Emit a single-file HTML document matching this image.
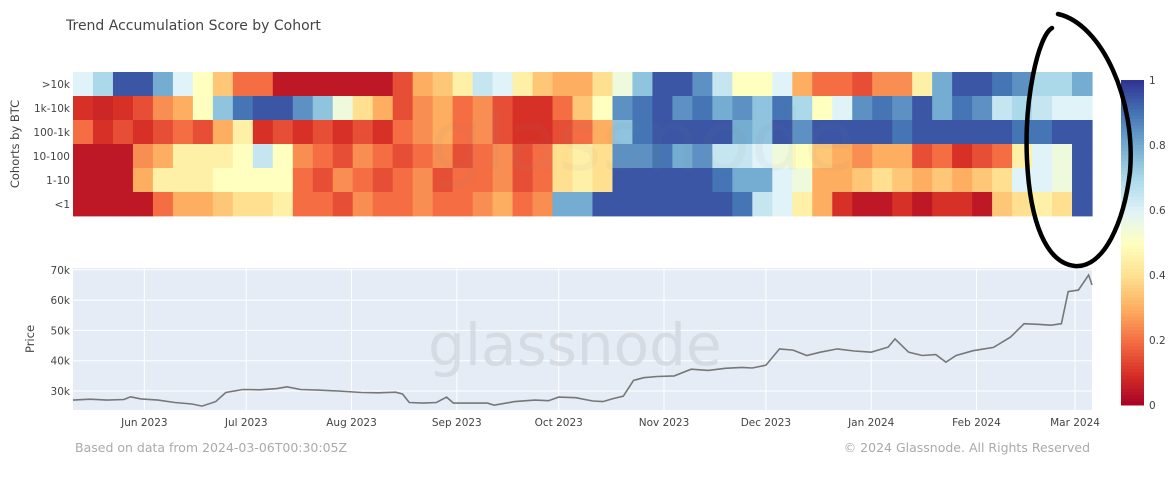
<!DOCTYPE html>
<html><head><meta charset="utf-8"><style>
body{margin:0;background:#fff;}
svg{display:block;font-family:"DejaVu Sans","Liberation Sans",sans-serif;}
</style></head><body>
<svg id="c" width="1170" height="504" viewBox="0 0 1170 504">
<rect width="1170" height="504" fill="#fff"/>
<text x="66" y="30" font-size="14" fill="#444">Trend Accumulation Score by Cohort</text>
<g id="heat"></g>
<text x="430" y="170" font-size="84" fill="#888" fill-opacity="0.06">glassnode</text>
<text x="19" y="144" font-size="11.5" fill="#444" transform="rotate(-90 19 144)" text-anchor="middle">Cohorts by BTC</text>
<g id="ylab"></g>
<rect x="73" y="268" width="1019" height="142" fill="#e5ecf6"/>
<g id="grid"></g>
<text x="428" y="365" font-size="58" fill="#cfd3dc" fill-opacity="0.7">glassnode</text>
<path id="pl" fill="none" stroke="#777" stroke-width="1.6"/>
<text x="34" y="339" font-size="11.5" fill="#444" transform="rotate(-90 34 339)" text-anchor="middle">Price</text>
<g id="cbar"></g>
<text x="75" y="452" font-size="12.5" fill="#aaa">Based on data from 2024-03-06T00:30:05Z</text>
<text x="1090" y="452" font-size="12.5" fill="#aaa" text-anchor="end">© 2024 Glassnode. All Rights Reserved</text>
<path d="M1052,28 C1038,36 1024,100 1027,160 C1030,222 1046,263 1075,266 C1104,268 1124,222 1130,172 C1136,100 1102,24 1058,14" fill="none" stroke="#000" stroke-width="4.5" stroke-linecap="round"/>
</svg>
<script>
const cohorts=[">10k","1k-10k","100-1k","10-100","1-10","<1"];
const row0=[.6,.7,.95,.95,.8,.6,.5,.35,.2,.2,.05,.05,.05,.05,.05,.05,.15,.3,.35,.45,.65,.6,.45,.35,.3,.3,.4,.55,.75,.95,.95,.85,.65,.5,.5,.6,.3,.2,.2,.15,.25,.25,.45,.8,.95,.95,.9,.85,.7,.7,.8];
const row1=[.1,.08,.1,.15,.25,.3,.5,.75,.9,.95,.95,.85,.75,.55,.4,.3,.15,.25,.3,.2,.25,.15,.1,.1,.2,.35,.5,.85,.9,.95,.85,.9,.8,.85,.75,.9,.7,.5,.6,.85,.9,.85,.95,.8,.9,.85,.65,.7,.65,.6,.6];
const row2=[.2,.1,.15,.1,.15,.2,.15,.3,.45,.1,.15,.1,.15,.1,.15,.1,.2,.25,.3,.2,.25,.15,.1,.1,.15,.2,.3,.75,.9,.95,.95,.95,.95,.8,.75,.95,.85,.95,.95,.95,.95,.9,.95,.95,.95,.95,.95,.9,.9,.95,.95];
const row3=[.05,.05,.05,.25,.3,.45,.45,.45,.5,.65,.5,.25,.2,.15,.25,.2,.15,.2,.25,.15,.2,.25,.15,.2,.4,.45,.4,.85,.85,.9,.8,.85,.65,.65,.6,.55,.5,.35,.3,.25,.3,.3,.15,.2,.1,.15,.2,.45,.6,.55,.95];
const row4=[.05,.05,.05,.3,.45,.45,.45,.5,.5,.5,.5,.2,.15,.25,.2,.15,.2,.25,.15,.2,.2,.25,.15,.2,.4,.45,.4,.95,.95,.95,.95,.95,.9,.8,.8,.6,.55,.3,.3,.35,.4,.35,.3,.35,.3,.35,.4,.6,.6,.55,.95];
const row5=[.05,.05,.05,.05,.2,.3,.3,.35,.4,.4,.45,.2,.2,.15,.25,.2,.2,.25,.2,.2,.25,.3,.2,.25,.8,.8,.95,.95,.95,.95,.95,.95,.95,.9,.65,.6,.45,.3,.1,.05,.05,.1,.05,.1,.1,.05,.35,.4,.45,.4,.95];
const rows=[row0,row1,row2,row3,row4,row5];
const days=[0,5,10,15,17,20,25,30,35,38,42,45,50,55,60,63,67,72,78,85,90,95,97,99,103,107,110,112,117,122,124,130,136,140,143,148,153,156,159,162,165,168,172,177,182,187,192,197,200,204,208,212,216,220,225,230,235,240,242,246,250,254,257,260,265,271,276,280,284,288,291,293,296,299,300];
const prices=[27,27.3,27,27.2,28.1,27.4,27.0,26.2,25.7,25.0,26.5,29.5,30.5,30.4,30.8,31.4,30.5,30.3,30.0,29.5,29.4,29.6,29.0,26.2,26.0,26.2,28.0,26.0,26.0,26.0,25.3,26.5,27.0,26.8,28.0,27.8,26.7,26.5,27.5,28.3,33.5,34.4,34.8,35.0,37.2,36.8,37.5,37.8,37.6,38.5,43.9,43.5,41.7,42.8,43.9,43.2,42.8,44.5,47.2,42.8,41.7,42,39.5,41.7,43.3,44.4,47.8,52.2,52.0,51.7,52.2,62.8,63.3,68.3,65.0];
const yTicks=[30,40,50,60,70];
const monthLabels=["Jun 2023","Jul 2023","Aug 2023","Sep 2023","Oct 2023","Nov 2023","Dec 2023","Jan 2024","Feb 2024","Mar 2024"];
const monthDays=[21,51,82,113,143,174,204,235,266,295];
const cbTicks=[0,0.2,0.4,0.6,0.8,1];

const NS="http://www.w3.org/2000/svg";
function mk(t,a,p){const e=document.createElementNS(NS,t);for(const k in a)e.setAttribute(k,a[k]);p.appendChild(e);return e;}
const stops=[[0,[165,0,38]],[.1,[215,48,39]],[.2,[244,109,67]],[.3,[253,174,97]],[.4,[254,224,144]],[.5,[255,255,191]],[.6,[224,243,248]],[.7,[171,217,233]],[.8,[116,173,209]],[.9,[69,117,180]],[1,[49,54,149]]];
function col(v){v=Math.max(0,Math.min(1,v));for(let i=1;i<stops.length;i++){if(v<=stops[i][0]){const a=stops[i-1],b=stops[i],t=(v-a[0])/(b[0]-a[0]);return "rgb("+a[1].map((c,j)=>Math.round(c+(b[1][j]-c)*t)).join(",")+")";}}return "rgb(49,54,149)";}
const hx0=73,hx1=1092,hy0=72,hy1=216;
const rh=(hy1-hy0)/cohorts.length;
const heat=document.getElementById('heat');
rows.forEach((r,ri)=>{const cw=(hx1-hx0)/r.length;r.forEach((v,ci)=>{
 const e=mk('rect',{x:hx0+ci*cw,y:hy0+ri*rh,width:cw+0.6,height:rh+0.4,fill:col(v)},heat);
 
 
});});
const yl=document.getElementById('ylab');
cohorts.forEach((c,i)=>{const t=mk('text',{x:70,y:hy0+i*rh+rh/2+4,'font-size':10.5,fill:'#444','text-anchor':'end'},yl);t.textContent=c;
 
 });
const px0=73,px1=1092,py0=268,py1=410,dMax=300;
const X=d=>px0+d*(px1-px0)/dMax;
const Y=p=>391-(p-30)*30.3/10;
const g=document.getElementById('grid');
yTicks.forEach(t=>{const y=Y(t);mk('line',{x1:px0,x2:px1,y1:y,y2:y,stroke:'#fff','stroke-width':1},g);
 const l=mk('text',{x:70,y:y+4,'font-size':10.5,fill:'#444','text-anchor':'end'},g);l.textContent=t+'k';
 
 });
monthDays.forEach((d,i)=>{const x=X(d);mk('line',{x1:x,x2:x,y1:py0,y2:py1,stroke:'#fff','stroke-width':1},g);
 const l=mk('text',{x:x,y:426,'font-size':10.5,fill:'#444','text-anchor':'middle'},g);l.textContent=monthLabels[i];
 
 });
document.getElementById('pl').setAttribute('d',days.map((d,i)=>(i?'L':'M')+X(d).toFixed(1)+','+Y(prices[i]).toFixed(1)).join(''));
const cb=document.getElementById('cbar');
const cy0=80,cy1=405;
for(let i=0;i<100;i++){const v=1-i/100;const e=mk('rect',{x:1121,y:cy0+i*(cy1-cy0)/100,width:23,height:(cy1-cy0)/100+0.5,fill:col(v)},cb);
 
 }
cbTicks.forEach(t=>{const l=mk('text',{x:1149,y:cy1-t*(cy1-cy0)+4,'font-size':10.5,fill:'#444'},cb);l.textContent=String(t);
 
 });
</script>
</body></html>
